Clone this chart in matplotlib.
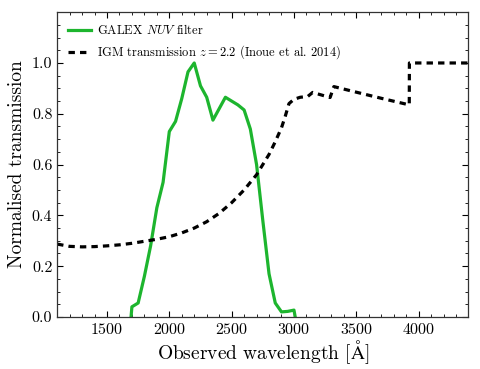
import numpy as np
import matplotlib
matplotlib.use("Agg")
import matplotlib.pyplot as plt

plt.rcParams["font.family"] = "serif"
plt.rcParams["font.serif"] = ["cmr10"]
plt.rcParams["mathtext.fontset"] = "cm"
plt.rcParams["axes.unicode_minus"] = False
plt.rcParams["axes.formatter.use_mathtext"] = True

# GALEX NUV filter curve (normalised)
nuv_wave = [1693, 1700, 1750, 1800, 1850, 1900, 1950, 2000, 2050, 2100, 2150,
            2200, 2250, 2300, 2350, 2400, 2450, 2500, 2550, 2600, 2650, 2700,
            2750, 2800, 2850, 2900, 2950, 3000, 3010]
nuv_trans = [0.0, 0.04, 0.055, 0.16, 0.28, 0.43, 0.53, 0.73, 0.77, 0.86, 0.965,
             1.0, 0.91, 0.865, 0.775, 0.82, 0.865, 0.85, 0.835, 0.815, 0.74, 0.6,
             0.38, 0.17, 0.055, 0.02, 0.022, 0.027, 0.0]

# IGM transmission at z = 2.2 (Inoue et al. 2014)
igm_wave = [1100, 1200, 1300, 1400, 1500, 1600, 1700, 1800, 1900, 2000, 2100,
            2200, 2300, 2400, 2500, 2600, 2700, 2800, 2850, 2900, 2930, 2960,
            3000, 3050, 3110, 3150, 3290, 3320, 3500, 3700, 3925, 3926, 4400]
igm_trans = [0.287, 0.278, 0.276, 0.277, 0.280, 0.284, 0.290, 0.298, 0.306,
             0.316, 0.331, 0.350, 0.375, 0.408, 0.450, 0.500, 0.560, 0.640,
             0.690, 0.745, 0.790, 0.840, 0.857, 0.865, 0.868, 0.884, 0.864,
             0.907, 0.885, 0.861, 0.835, 1.0, 1.0]

fig = plt.figure(figsize=(4.8, 3.69), dpi=100)
ax = fig.add_axes([0.119, 0.141, 0.857, 0.826])

ax.plot(nuv_wave, nuv_trans, color="#1db52e", lw=2.3, label=r"GALEX $NUV$ filter")
ax.plot(igm_wave, igm_trans, color="k", lw=2.3, linestyle=(0, (2, 1.6)),
        label=r"IGM transmission $z=2.2$ (Inoue et al. 2014)")

ax.set_xlim(1100, 4400)
ax.set_ylim(0, 1.2)
ax.set_xticks([1500, 2000, 2500, 3000, 3500, 4000])
ax.set_yticks([0.0, 0.2, 0.4, 0.6, 0.8, 1.0])
ax.set_yticklabels(["0.0", "0.2", "0.4", "0.6", "0.8", "1.0"])
ax.xaxis.set_minor_locator(matplotlib.ticker.MultipleLocator(100))
ax.yaxis.set_minor_locator(matplotlib.ticker.MultipleLocator(0.05))
ax.tick_params(which="both", direction="in", top=True, right=True, labelsize=11.5)
ax.tick_params(which="major", length=4, width=0.8)
ax.tick_params(which="minor", length=2.2, width=0.6)
for s in ax.spines.values():
    s.set_color("#333333")
    s.set_linewidth(0.9)

ax.set_xlabel(r"Observed wavelength [$\mathrm{\AA}$]", fontsize=14, labelpad=1)
ax.set_ylabel("Normalised transmission", fontsize=14, labelpad=4)

ax.legend(loc="upper left", frameon=False, fontsize=9, handlelength=1.8,
          handletextpad=0.5, borderaxespad=0.5, labelspacing=0.5)

fig.savefig("out.png", dpi=100)
